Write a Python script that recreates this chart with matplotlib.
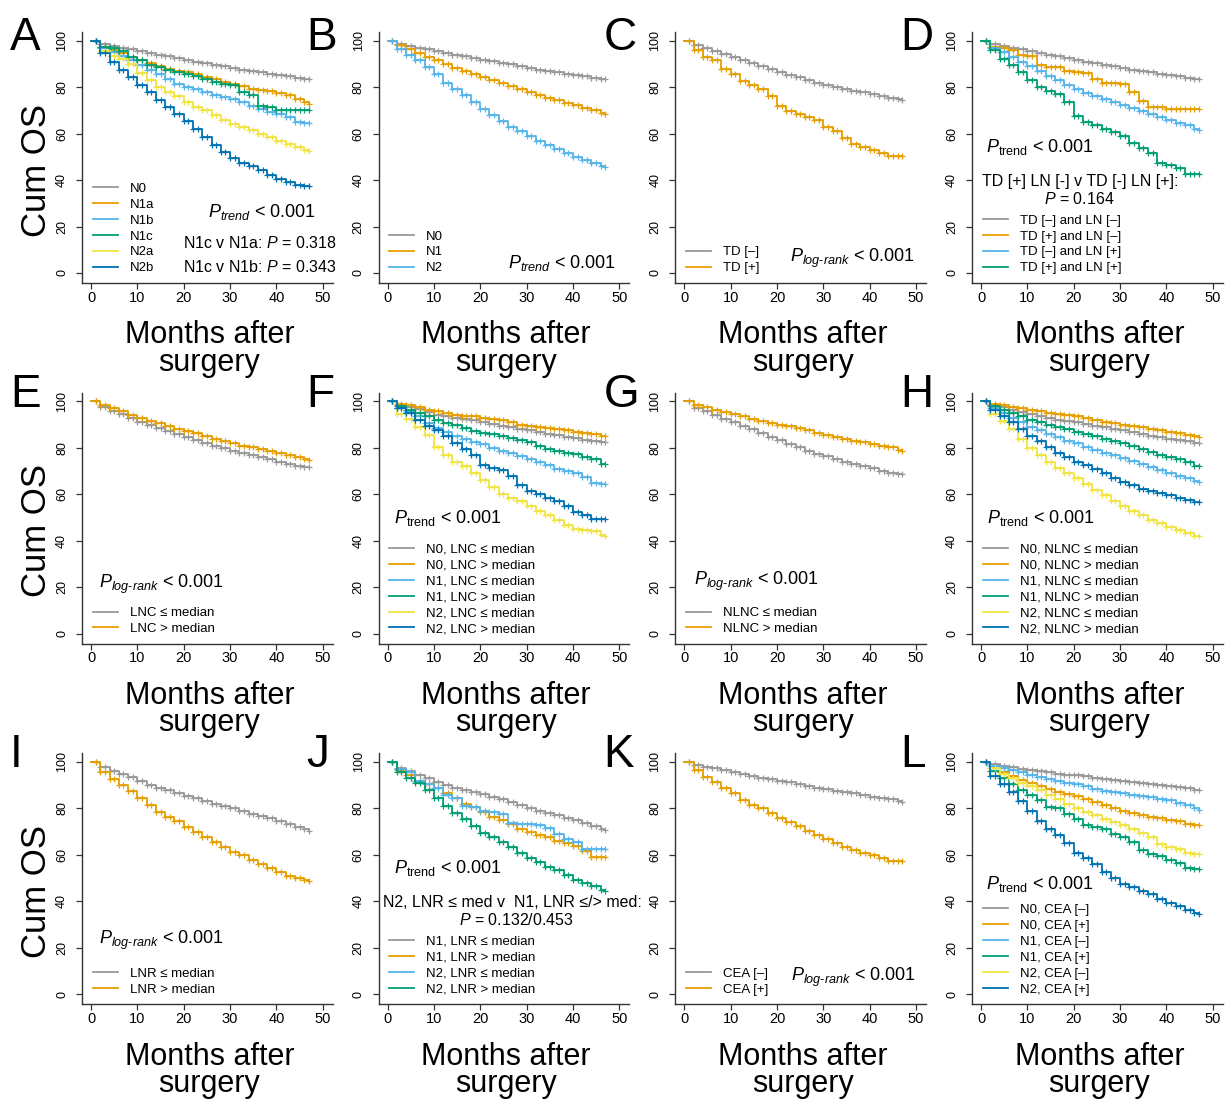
import matplotlib
matplotlib.use('Agg')
import matplotlib.pyplot as plt
from matplotlib.lines import Line2D

plt.rcParams['font.family'] = ['Liberation Sans', 'DejaVu Sans']
plt.rcParams['mathtext.fontset'] = 'custom'
plt.rcParams['mathtext.rm'] = 'Liberation Sans'
plt.rcParams['mathtext.it'] = 'Liberation Sans:italic'
plt.rcParams['mathtext.bf'] = 'Liberation Sans:bold'

# ---------------- data ----------------
MONTHS = [0, 2, 4, 6, 8, 10, 12, 14, 16, 18, 20, 22, 24, 26, 28, 30, 32, 34, 36, 38, 40, 42, 44, 46, 47]
XTICKS = [0, 10, 20, 30, 40, 50]
YTICKS = [0, 20, 40, 60, 80, 100]

A_N0 = [100, 98.5, 97.8, 97, 96.3, 95.5, 94.8, 94, 93.3, 92.5, 91.8, 91, 90.3, 89.6, 89, 88.3, 87.6, 87, 86.4, 85.8, 85.2, 84.6, 84, 83.5, 83.3]
A_N1A = [100, 97.5, 96, 94.5, 93, 91.8, 90.3, 89, 88, 87, 86.5, 85.5, 84.5, 83.3, 82.3, 81.5, 80.3, 79.3, 78.8, 78.3, 77.5, 76.5, 75, 73.5, 72.6]
A_N1B = [100, 97, 95, 93.5, 91.5, 89.5, 87.5, 85.5, 83.5, 81.5, 80, 79, 78, 76.8, 75.8, 74.8, 73.5, 72, 70.5, 69.5, 68.5, 67, 65.2, 64.5, 64.5]
A_N1C = [100, 97.5, 97, 95.5, 93, 91.5, 89.5, 88.5, 87.5, 86.5, 85.5, 84.8, 83.5, 82.3, 81.3, 81, 78, 76.5, 72, 71.5, 70.2, 70.2, 70.2, 70.2, 70.2]
A_N2A = [100, 95.5, 93.5, 92, 90, 86, 83, 80, 78, 76, 73.5, 71.5, 70, 68, 66, 64.3, 62.8, 61.5, 60, 58.5, 57, 55.5, 54.3, 53, 52.5]
A_N2B = [100, 94.5, 91, 87.5, 84.5, 81, 78, 74.5, 71.5, 68.5, 65.5, 62, 58.5, 55, 52, 49.5, 47.5, 46, 44.5, 42, 40.3, 39, 37.8, 37.5, 37.5]
A_LABELS = ['N0', 'N1a', 'N1b', 'N1c', 'N2a', 'N2b']

B_N0 = [100, 98.5, 97.8, 97, 96.3, 95.5, 94.8, 94, 93.3, 92.6, 91.9, 91.2, 90.5, 89.8, 89, 88.3, 87.6, 87, 86.4, 85.8, 85.2, 84.6, 84, 83.5, 83.3]
B_N1 = [100, 98, 96.5, 94.8, 93, 91.5, 89.8, 88.3, 87, 85.7, 84.5, 83.2, 81.8, 80.5, 79.2, 78, 76.7, 75.5, 74.3, 73.3, 72.3, 71.2, 70, 68.8, 68.5]
B_N2 = [100, 96.5, 94, 91.5, 88.5, 85.5, 82, 79, 76.5, 73.5, 70.5, 68, 65.5, 63, 61, 59, 57, 55, 53.3, 51.5, 50, 48.5, 47.2, 46, 45.8]
B_LABELS = ['N0', 'N1', 'N2']

C_NEG = [100, 98, 96.7, 95.5, 94.3, 93, 91.5, 90.3, 89, 87.8, 86.6, 85.4, 84.3, 83, 82, 81, 80.1, 79.3, 78.5, 77.8, 77, 76.3, 75.5, 74.8, 74.5]
C_POS = [100, 96, 93, 91.5, 88, 85.5, 82.5, 81, 79, 76, 72, 69.8, 68.5, 67, 65.8, 63, 61.2, 58, 55.5, 54.3, 53, 51.5, 50.4, 50.4, 50.4]
C_LABELS = ['TD [\u2013]', 'TD [+]']

D_NN = [100, 98.5, 97.8, 97, 96.3, 95.5, 94.8, 94, 93.3, 92.5, 91.8, 91, 90.3, 89.6, 89, 88.3, 87.6, 87, 86.4, 85.8, 85.2, 84.6, 84, 83.5, 83.3]
D_PN = [100, 97.5, 97, 96, 94, 93.5, 89.5, 88.5, 88.5, 87, 86.5, 86, 83.5, 81.7, 81.7, 81.5, 78, 74, 71.5, 71.5, 70.5, 70.5, 70.5, 70.5, 70.5]
D_NP = [100, 97, 95, 93, 91, 89, 86.8, 85, 83, 81, 79.2, 77.5, 76.3, 75, 73.5, 72.3, 71, 69.8, 68.5, 67.3, 66, 64.7, 63.5, 62, 61.6]
D_PP = [100, 96, 92, 89.5, 86.5, 83, 80, 78.5, 77, 73.5, 67.5, 65, 63.5, 62, 60.5, 59, 56, 54, 51.5, 47.5, 46.5, 45, 42.5, 42.5, 42.5]
D_LABELS = ['TD [\u2013] and LN [\u2013]', 'TD [+] and LN [\u2013]', 'TD [\u2013] and LN [+]', 'TD [+] and LN [+]']

E_LE = [100, 97.5, 96, 94.5, 92.8, 91.2, 89.8, 88.5, 87.2, 85.8, 84.5, 83.2, 82, 80.8, 79.8, 78.8, 77.8, 76.8, 76, 75, 74, 73.2, 72.3, 71.8, 71.7]
E_GT = [100, 98.3, 97, 95.8, 94.3, 93, 91.7, 90.5, 89.3, 88.2, 87.3, 86.3, 85.3, 84, 83, 82, 81, 80.2, 79.5, 78.7, 77.7, 76.8, 76, 75.2, 74.9]
E_LABELS = ['LNC \u2264 median', 'LNC > median']

F_N0_LE = [100, 98.5, 97.5, 96.6, 95.5, 94.3, 93.5, 92.8, 92.3, 91.8, 91.2, 90.3, 89.3, 88.8, 88, 87.5, 86.8, 86, 85.5, 84.8, 84.2, 83.5, 83, 82.7, 82.5]
F_N0_GT = [100, 99, 98.3, 97.5, 96.5, 95.8, 95, 94.3, 93.8, 93.5, 93, 92.5, 91.8, 91, 90, 89.5, 89, 88.5, 88, 87.5, 87, 86.5, 86, 85.2, 84.9]
F_N1_LE = [100, 97, 95.5, 93.5, 90.5, 88.5, 87, 85.3, 83.8, 82.5, 81.8, 80, 78.8, 77.8, 76.3, 75, 74, 72.5, 71, 70, 69, 67.5, 65, 64.6, 64.6]
F_N1_GT = [100, 98, 96.5, 95, 93.5, 92, 90.8, 89.8, 88.5, 87.3, 86.5, 85.8, 85, 84.3, 83.2, 82.5, 81, 79.3, 78.8, 78, 77.2, 76, 75, 73.2, 72.9]
F_N2_LE = [100, 94.5, 92.5, 89, 85.5, 80.5, 77, 74, 72, 69, 66, 63, 60, 58.3, 57, 55, 53, 51, 49, 47, 45, 44.5, 44, 42.5, 41.9]
F_N2_GT = [100, 97, 95, 92, 89.5, 87.5, 85, 82, 79.5, 77, 72.8, 71.5, 70.5, 68, 64, 61.5, 60, 58.5, 57, 55, 52.5, 51, 49.5, 49.4, 49.4]
F_LABELS = ['N0, LNC \u2264 median', 'N0, LNC > median', 'N1, LNC \u2264 median',
            'N1, LNC > median', 'N2, LNC \u2264 median', 'N2, LNC > median']

G_LE = [100, 97.3, 95.8, 94, 92.5, 91, 89.5, 88, 86.5, 84.8, 83.2, 81.8, 80.3, 78.8, 77.5, 76.3, 75, 74, 73, 72, 71.2, 70, 69, 68.7, 68.6]
G_GT = [100, 98.5, 97.5, 96.5, 95.3, 94.5, 93.5, 92.5, 91.5, 90.8, 90, 89.2, 88.5, 87.5, 86.3, 85.5, 84.5, 83.7, 83, 82.5, 81.8, 81, 80.3, 79, 78.5]
G_LABELS = ['NLNC \u2264 median', 'NLNC > median']

H_N0_LE = [100, 98.5, 97.5, 96.5, 95.5, 94.5, 93.5, 92.8, 92, 91.5, 91, 90.3, 89.5, 88.8, 88, 87.5, 86.8, 86, 85.3, 84.7, 84, 83.3, 82.8, 82.2, 82]
H_N0_GT = [100, 99, 98.5, 97.8, 97, 96.3, 95.7, 95, 94.5, 94, 93.5, 92.8, 92, 91.3, 90.7, 90, 89.5, 88.8, 88.2, 87.6, 87, 86.3, 85.6, 85, 84.8]
H_N1_LE = [100, 97, 95, 93, 91, 89, 87.5, 86, 84.5, 83, 82, 80.5, 79, 78, 76.8, 75.5, 74.2, 73, 71.8, 70.5, 69, 68, 67, 65.8, 65.5]
H_N1_GT = [100, 98, 96.5, 95, 93.5, 92, 91, 90, 89, 88, 87, 86, 85, 84, 83, 82, 80.8, 79.5, 78.3, 77, 76, 75, 73.8, 72.3, 72]
H_N2_LE = [100, 94.5, 91.5, 88, 84, 80, 77, 74, 71.5, 69, 67, 64.5, 62, 59.5, 57, 55, 53, 51, 49, 47.5, 46, 44.5, 43.5, 42.2, 42]
H_N2_GT = [100, 96.5, 93.5, 91, 88, 85, 83, 80.5, 78, 76, 74, 72.5, 71, 69, 67, 65.5, 64, 62.5, 61.5, 60.5, 59.5, 58.5, 57.5, 56.6, 56.5]
H_LABELS = ['N0, NLNC \u2264 median', 'N0, NLNC > median', 'N1, NLNC \u2264 median',
            'N1, NLNC > median', 'N2, NLNC \u2264 median', 'N2, NLNC > median']

I_LE = [100, 97.8, 96.3, 95, 93.5, 92, 90.3, 89, 88, 86.5, 85.3, 84.3, 83.2, 82, 81, 80, 78.8, 77.5, 76.8, 75.8, 74.5, 73.3, 72, 71, 70.4]
I_GT = [100, 95.5, 92.5, 90, 87.5, 84.5, 81.5, 78.5, 76.5, 74.5, 72, 69.8, 67.8, 65.5, 63.2, 61.3, 59.8, 58, 56, 54.5, 52.8, 51, 50, 49, 48.8]
I_LABELS = ['LNR \u2264 median', 'LNR > median']

J_N1_LE = [100, 97.5, 96, 94.5, 93, 91.5, 90.3, 89, 88, 87.3, 86.3, 85, 84, 82.8, 81.5, 80.3, 79, 78, 77, 76, 75, 73.8, 72.5, 71.3, 70.7]
J_N1_GT = [100, 96.5, 94.5, 92, 90.5, 88.8, 86.5, 84.5, 82, 80.5, 78.6, 76.5, 75, 73.5, 71, 69.8, 68.5, 67.5, 66, 65, 64, 61.5, 59.3, 59.3, 59.3]
J_N2_LE = [100, 97, 95.5, 92, 90.5, 89, 86, 84.5, 81, 80.5, 79, 78.5, 77.5, 73.8, 73.5, 73.3, 73, 71.5, 69, 67, 65.5, 62.5, 62.5, 62.5, 62.5]
J_N2_GT = [100, 95.5, 93, 91, 88, 84.5, 81, 78, 75.5, 72.5, 69.5, 67.5, 65.5, 63.5, 61, 58.8, 56.8, 55, 53.3, 51.5, 49.3, 47.8, 46.5, 45, 44.5]
J_LABELS = ['N1, LNR \u2264 median', 'N1, LNR > median', 'N2, LNR \u2264 median', 'N2, LNR > median']

K_NEG = [100, 98.8, 98, 97.3, 96.5, 95.5, 94.8, 94, 93.3, 92.7, 92, 91.3, 90.6, 89.8, 89, 88.5, 87.7, 87, 86.5, 86, 85, 84.5, 84, 83.2, 82.9]
K_POS = [100, 96.5, 93.5, 91.5, 89, 86.5, 83.5, 81.5, 80, 78, 75.8, 74, 72.5, 70.5, 68.5, 66.7, 65, 63.5, 62, 61, 59.8, 58.5, 57.5, 57.4, 57.4]
K_LABELS = ['CEA [\u2013]', 'CEA [+]']

L_N0_NEG = [100, 99, 98.3, 97.7, 97.2, 96.6, 96, 95.5, 95, 94.6, 94.2, 93.8, 93.3, 92.8, 92.3, 92, 91.5, 91, 90.6, 90.2, 89.7, 89.3, 88.8, 88.1, 87.9]
L_N0_POS = [100, 97.5, 95.5, 94, 92.3, 91, 89.5, 88.3, 87.3, 86.3, 85.3, 84, 82.8, 81.3, 80, 79, 78, 77.2, 76.5, 75.8, 75.2, 74.5, 73.5, 73, 72.9]
L_N1_NEG = [100, 98.3, 97.5, 96.5, 95.5, 94.5, 93.5, 92.5, 91.7, 90.8, 90.5, 89.5, 88.5, 87.7, 87, 86.8, 86, 85.5, 84.8, 84, 83.5, 82.5, 81.5, 80, 79.5]
L_N1_POS = [100, 96, 93, 90.5, 88, 86, 83.5, 80.8, 80, 77.5, 75.5, 73, 72, 71, 69, 67.5, 65.5, 62, 60.5, 59.5, 58, 56.5, 54.5, 54.1, 54.1]
L_N2_NEG = [100, 97.5, 95, 93, 91, 89.5, 88, 86, 84, 82, 80, 78.5, 77, 75.5, 74, 73, 71, 69.5, 67.5, 64.5, 63.5, 62.5, 61, 60.5, 60.5]
L_N2_POS = [100, 94, 90.5, 87, 83, 79, 74.5, 71, 68.5, 65, 61, 58.5, 56, 52.5, 50, 47.5, 46, 44.5, 43, 41, 39.5, 38, 36.5, 35, 34.4]
L_LABELS = ['N0, CEA [\u2013]', 'N0, CEA [+]', 'N1, CEA [\u2013]', 'N1, CEA [+]', 'N2, CEA [\u2013]', 'N2, CEA [+]']

# ---------------- styling ----------------
COLORS = ['#999999', '#E69F00', '#56B4E9', '#009E73', '#F0E442', '#0072B2']
LW = 1.3
W, H = 1232, 1101
PXM = 4.636   # pixels per month
PYU = 2.323   # pixels per percent
X0 = [91, 387.5, 684.3, 981]     # pixel of month 0 per column
Y0 = [273, 633.7, 994.3]         # pixel of 0 % per row
XLIM = (-1.94, 52.2)
YLIM = (-4.3, 103.7)

P_IT = r'$P_{trend}$ < 0.001'
P_RM = r'$P_{\mathrm{trend}}$ < 0.001'
P_LR = '$P_{log\u2010rank}$ < 0.001'

panels = [
    dict(letter='A', r=0, c=0, series=[A_N0, A_N1A, A_N1B, A_N1C, A_N2A, A_N2B], labels=A_LABELS,
         texts=[(48.5, 24.2, P_IT, 'right', 13),
                (53.0, 10.9, 'N1c v N1a: $P$ = 0.318', 'right', 11.5),
                (53.0, 0.6, 'N1c v N1b: $P$ = 0.343', 'right', 11.5)]),
    dict(letter='B', r=0, c=1, series=[B_N0, B_N1, B_N2], labels=B_LABELS,
         texts=[(49.3, 2.0, P_IT, 'right', 13)]),
    dict(letter='C', r=0, c=2, series=[C_NEG, C_POS], labels=C_LABELS,
         texts=[(49.75, 4.9, P_LR, 'right', 13)]),
    dict(letter='D', r=0, c=3, series=[D_NN, D_PN, D_NP, D_PP], labels=D_LABELS,
         texts=[(1.1, 52.2, P_RM, 'left', 13),
                (0.15, 37.5, 'TD [+] LN [-] v TD [-] LN [+]:', 'left', 11.5),
                (21.3, 29.6, '$P$ = 0.164', 'center', 11.5)]),
    dict(letter='E', r=1, c=0, series=[E_LE, E_GT], labels=E_LABELS,
         texts=[(1.8, 19.6, P_LR, 'left', 13)]),
    dict(letter='F', r=1, c=1, series=[F_N0_LE, F_N0_GT, F_N1_LE, F_N1_GT, F_N2_LE, F_N2_GT], labels=F_LABELS,
         texts=[(1.4, 47.7, P_RM, 'left', 13)]),
    dict(letter='G', r=1, c=2, series=[G_LE, G_GT], labels=G_LABELS,
         texts=[(2.1, 21.1, P_LR, 'left', 13)]),
    dict(letter='H', r=1, c=3, series=[H_N0_LE, H_N0_GT, H_N1_LE, H_N1_GT, H_N2_LE, H_N2_GT], labels=H_LABELS,
         texts=[(1.4, 47.7, P_RM, 'left', 13)]),
    dict(letter='I', r=2, c=0, series=[I_LE, I_GT], labels=I_LABELS,
         texts=[(1.8, 21.7, P_LR, 'left', 13)]),
    dict(letter='J', r=2, c=1, series=[J_N1_LE, J_N1_GT, J_N2_LE, J_N2_GT], labels=J_LABELS,
         texts=[(1.4, 52.1, P_RM, 'left', 13),
                (-1.0, 37.7, 'N2, LNR \u2264 med v  N1, LNR \u2264/> med:', 'left', 11.5),
                (27.7, 29.8, '$P$ = 0.132/0.453', 'center', 11.5)]),
    dict(letter='K', r=2, c=2, series=[K_NEG, K_POS], labels=K_LABELS,
         texts=[(50.0, 5.9, P_LR, 'right', 13)]),
    dict(letter='L', r=2, c=3, series=[L_N0_NEG, L_N0_POS, L_N1_NEG, L_N1_POS, L_N2_NEG, L_N2_POS], labels=L_LABELS,
         texts=[(1.1, 45.5, P_RM, 'left', 13)]),
]

fig = plt.figure(figsize=(W / 100, H / 100), dpi=100)


def fx(px):
    return px / W


def fy(py):
    return 1 - py / H


for p in panels:
    r, c = p['r'], p['c']
    left_px = X0[c] + XLIM[0] * PXM
    top_px = Y0[r] - YLIM[1] * PYU
    wpx = (XLIM[1] - XLIM[0]) * PXM
    hpx = (YLIM[1] - YLIM[0]) * PYU
    ax = fig.add_axes([fx(left_px), fy(top_px + hpx), wpx / W, hpx / H])
    ax.set_xlim(*XLIM)
    ax.set_ylim(*YLIM)
    for s in ['top', 'right']:
        ax.spines[s].set_visible(False)
    for s in ['left', 'bottom']:
        ax.spines[s].set_color('#333333')
        ax.spines[s].set_linewidth(1.0)
    ax.set_xticks(XTICKS)
    ax.set_yticks(YTICKS)
    ax.tick_params(axis='x', length=4, width=0.9, pad=1.5, labelsize=10.5, color='#333333')
    ax.tick_params(axis='y', length=4, width=0.9, pad=6, labelsize=9, color='#333333', labelrotation=90)
    for lab in ax.get_yticklabels():
        lab.set_va('center')

    handles = []
    for i, vals in enumerate(p['series']):
        col = COLORS[i]
        ax.plot(MONTHS, vals, drawstyle='steps-post', color=col, lw=LW, zorder=2 + i * 0.1)
        cx = [m + 1 for m in MONTHS[:-2]] + MONTHS[1:]
        cy = vals[:-2] + vals[1:]
        ax.plot(cx, cy, linestyle='none', marker='+', ms=5, mew=0.9, color=col, zorder=2 + i * 0.1)
        handles.append(Line2D([], [], color=col, lw=LW))
    ax.legend(handles, p['labels'], loc='lower left', bbox_to_anchor=(0.4, -0.6),
              bbox_transform=ax.transData, frameon=False, fontsize=9.5, handlelength=1.9,
              handletextpad=0.9, labelspacing=0.28, borderpad=0, borderaxespad=0)

    for (x, y, t, ha, fs) in p['texts']:
        ax.text(x, y, t, ha=ha, va='baseline', fontsize=fs, clip_on=False, zorder=5)

    # panel letter
    fig.text(fx(left_px - 72), fy([50, 407, 767][r]), p['letter'], fontsize=33,
             ha='left', va='baseline')
    # x label (two lines, tight spacing)
    cx_px = left_px + wpx / 2 + 2
    bottom_px = top_px + hpx
    fig.text(fx(cx_px), fy(bottom_px + 37.5), 'Months after\nsurgery', fontsize=22,
             ha='center', va='top', linespacing=0.88, multialignment='center')
    if c == 0:
        fig.text(fx(36), fy(Y0[r] - 103), 'Cum OS', fontsize=25, rotation=90,
                 ha='center', va='center')

fig.savefig('out.png', dpi=100, facecolor='white')
